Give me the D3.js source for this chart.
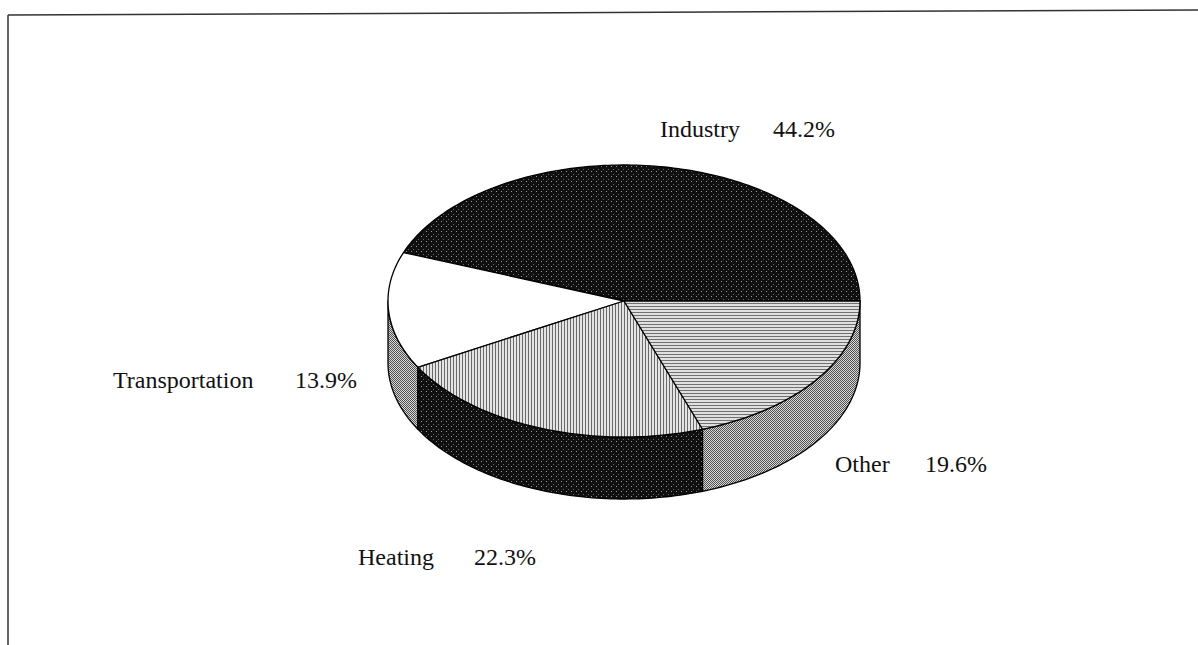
<!DOCTYPE html>
<html>
<head>
<meta charset="utf-8">
<script src="https://cdn.jsdelivr.net/npm/d3@7"></script>
<style>
  body { margin: 0; background: #fff; }
  text { font-family: "Liberation Serif", "DejaVu Serif", serif; font-size: 24px; fill: #111; }
</style>
</head>
<body>
<svg id="chart" width="1198" height="645"></svg>
<script>
// data
var sectors = ["Industry", "Transportation", "Heating", "Other"];
var shares = [44.2, 13.9, 22.3, 19.6];

// label placement: [name x, value x, baseline y]
var labelPos = [[660, 773, 137], [113, 295, 388], [358, 474, 565], [835, 925, 472]];

// fills for top faces and sides
var topFill = ["url(#darkDots)", "#ffffff", "url(#vLines)", "url(#hLines)"];
var sideFill = ["url(#darkDots)", "url(#grayDots)", "url(#darkDots)", "url(#grayDots)"];

var svg = d3.select("#chart");
var cx = 624, cy = 301, rx = 236, ry = 136, depth = 62;

// patterns to imitate the scanned hatching
var defs = svg.append("defs");
var p = defs.append("pattern").attr("id", "vLines").attr("patternUnits", "userSpaceOnUse")
    .attr("width", 3).attr("height", 3);
p.append("rect").attr("width", 3).attr("height", 3).attr("fill", "#e4e4e4");
p.append("rect").attr("width", 1).attr("height", 3).attr("fill", "#6a6a6a");

p = defs.append("pattern").attr("id", "hLines").attr("patternUnits", "userSpaceOnUse")
    .attr("width", 3).attr("height", 3);
p.append("rect").attr("width", 3).attr("height", 3).attr("fill", "#e0e0e0");
p.append("rect").attr("width", 3).attr("height", 1).attr("fill", "#707070");

p = defs.append("pattern").attr("id", "grayDots").attr("patternUnits", "userSpaceOnUse")
    .attr("width", 2).attr("height", 2);
p.append("rect").attr("width", 2).attr("height", 2).attr("fill", "#d8d8d8");
p.append("rect").attr("width", 1).attr("height", 1).attr("fill", "#505050");
p.append("rect").attr("x", 1).attr("y", 1).attr("width", 1).attr("height", 1).attr("fill", "#505050");

p = defs.append("pattern").attr("id", "darkDots").attr("patternUnits", "userSpaceOnUse")
    .attr("width", 5).attr("height", 5);
p.append("rect").attr("width", 5).attr("height", 5).attr("fill", "#101010");
p.append("rect").attr("x", 1).attr("y", 1).attr("width", 1).attr("height", 1).attr("fill", "#9a9a9a");
p.append("rect").attr("x", 3).attr("y", 4).attr("width", 1).attr("height", 1).attr("fill", "#6a6a6a");

// frame (top and left edge of the scanned box)
svg.append("line").attr("x1", 8).attr("y1", 15).attr("x2", 1198).attr("y2", 10)
    .attr("stroke", "#333").attr("stroke-width", 1.5);
svg.append("line").attr("x1", 8).attr("y1", 15).attr("x2", 8).attr("y2", 645)
    .attr("stroke", "#333").attr("stroke-width", 1.5);

// pie: start at 3 o'clock, go counter-clockwise
var pie = d3.pie().sort(null)
    .startAngle(Math.PI / 2)
    .endAngle(Math.PI / 2 - 2 * Math.PI);
var arcs = pie(shares);

function pt(a, dy) {
    return [cx + rx * Math.sin(a), cy - ry * Math.cos(a) + (dy || 0)];
}
function sample(a0, a1, dy) {
    var n = Math.max(2, Math.ceil(Math.abs(a1 - a0) / 0.02));
    var pts = [];
    for (var i = 0; i <= n; i++) pts.push(pt(a0 + (a1 - a0) * i / n, dy));
    return pts;
}
var line = d3.line();

// sides: only the part in front (lower half of ellipse)
var g = svg.append("g");
arcs.forEach(function(d, i) {
    var hi = Math.max(d.startAngle, d.endAngle), lo = Math.min(d.startAngle, d.endAngle);
    [[-1.5 * Math.PI, -0.5 * Math.PI], [0.5 * Math.PI, 1.5 * Math.PI]].forEach(function(r) {
        var a = Math.max(lo, r[0]), b = Math.min(hi, r[1]);
        if (b - a < 1e-4) return;
        var pts = sample(a, b, 0).concat(sample(b, a, depth));
        g.append("path")
            .attr("d", line(pts) + "Z")
            .attr("fill", sideFill[i])
            .attr("stroke", "#000").attr("stroke-width", 1.3)
            .attr("stroke-linejoin", "round");
    });
});

// top faces
arcs.forEach(function(d, i) {
    var pts = [[cx, cy]].concat(sample(d.startAngle, d.endAngle, 0));
    g.append("path")
        .attr("d", line(pts) + "Z")
        .attr("fill", topFill[i])
        .attr("stroke", "#000").attr("stroke-width", 1.3)
        .attr("stroke-linejoin", "round");
});

// labels
sectors.forEach(function(s, i) {
    svg.append("text").attr("x", labelPos[i][0]).attr("y", labelPos[i][2]).text(s);
    svg.append("text").attr("x", labelPos[i][1]).attr("y", labelPos[i][2]).text(shares[i].toFixed(1) + "%");
});
</script>
</body>
</html>
